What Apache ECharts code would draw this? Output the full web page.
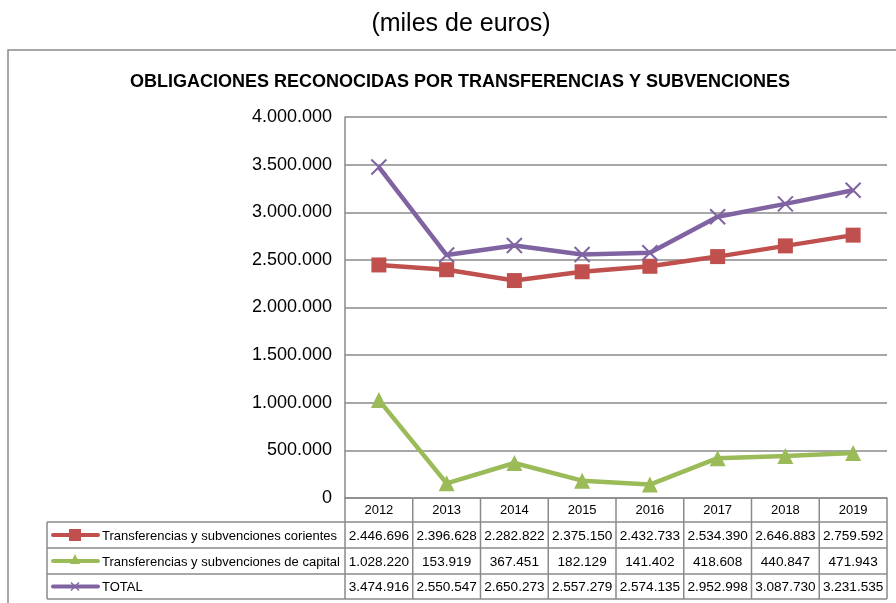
<!DOCTYPE html>
<html>
<head>
<meta charset="utf-8">
<script src="https://cdn.jsdelivr.net/npm/echarts@6/dist/echarts.min.js"></script>
<style>
  html, body { margin: 0; padding: 0; background: #fff; }
  #main { width: 896px; height: 603px; }
</style>
</head>
<body>
<div id="main"></div>
<script>
  // datos (miles de euros)
  const years = ['2012', '2013', '2014', '2015', '2016', '2017', '2018', '2019'];
  const corrientes = [2446696, 2396628, 2282822, 2375150, 2432733, 2534390, 2646883, 2759592];
  const capital = [1028220, 153919, 367451, 182129, 141402, 418608, 440847, 471943];
  const total = [3474916, 2550547, 2650273, 2557279, 2574135, 2952998, 3087730, 3231535];
  const seriesNames = [
    'Transferencias y subvenciones corientes',
    'Transferencias y subvenciones de capital',
    'TOTAL',
  ];
  const colors = ['#C0504D', '#9BBB59', '#8064A2'];
  const crossPath = 'path://M0,0L10,10M10,0L0,10';

  const fmt = v => String(v).replace(/\B(?=(\d{3})+(?!\d))/g, '.');
  const font = 'Liberation Sans, Arial, sans-serif';
  const gridColor = '#8a8a8a';

  const myChart = echarts.init(document.getElementById('main'));

  const gridLeft = 345;
  const gridRight = 887;
  const tableLeft = 47;
  const rowY = [498, 522, 548, 574, 599];

  myChart.setOption({
    animation: false,
    textStyle: { fontFamily: font },
    title: [{
      text: '(miles de euros)',
      left: 456,
      top: 7,
      textAlign: 'center',
      textStyle: { fontSize: 25, fontWeight: 'normal', color: '#000', fontFamily: font },
    }, {
      text: 'OBLIGACIONES RECONOCIDAS POR TRANSFERENCIAS Y SUBVENCIONES',
      left: 455,
      top: 68,
      textAlign: 'center',
      textStyle: { fontSize: 18, fontWeight: 'bold', color: '#000', fontFamily: font },
    }],
    grid: {
      left: gridLeft,
      right: 896 - gridRight,
      top: 117,
      bottom: 603 - rowY[0],
      containLabel: false,
    },
    xAxis: {
      type: 'category',
      data: years,
      boundaryGap: true,
      axisLine: { lineStyle: { color: gridColor, width: 1.5 } },
      axisTick: { show: false },
      axisLabel: { color: '#000', fontSize: 13, margin: 6, fontFamily: font },
    },
    yAxis: {
      type: 'value',
      min: 0,
      max: 4000000,
      interval: 500000,
      axisLine: { show: true, lineStyle: { color: gridColor, width: 1.5 } },
      axisTick: { show: false },
      splitLine: { lineStyle: { color: gridColor, width: 1.5 } },
      axisLabel: {
        color: '#000',
        fontSize: 18,
        margin: 13,
        fontFamily: font,
        formatter: v => fmt(v),
      },
    },
    series: [{
      name: seriesNames[0],
      type: 'line',
      data: corrientes,
      symbol: 'rect',
      symbolSize: 15,
      lineStyle: { color: colors[0], width: 4.5 },
      itemStyle: { color: colors[0] },
    }, {
      name: seriesNames[1],
      type: 'line',
      data: capital,
      symbol: 'triangle',
      symbolSize: 16,
      lineStyle: { color: colors[1], width: 4.5 },
      itemStyle: { color: colors[1] },
    }, {
      name: seriesNames[2],
      type: 'line',
      data: total,
      symbol: crossPath,
      symbolSize: 15,
      lineStyle: { color: colors[2], width: 4.5 },
      itemStyle: { color: colors[2], borderColor: colors[2], borderWidth: 2 },
    }],
  });

  // tabla de datos debajo del eje
  function buildTable() {
    const colW = (gridRight - gridLeft) / years.length;
    const els = [];
    const line = (x1, y1, x2, y2) => ({
      type: 'line',
      shape: { x1, y1, x2, y2 },
      style: { stroke: gridColor, lineWidth: 1.5 },
      z: 10,
    });
    // marco exterior
    els.push({
      type: 'rect',
      shape: { x: 8, y: 50, width: 900, height: 620 },
      style: { fill: 'none', stroke: '#8a8a8a', lineWidth: 1.5 },
      z: 0,
    });
    // verticales de los años
    for (let i = 0; i <= years.length; i++) {
      const x = gridLeft + i * colW;
      els.push(line(x, rowY[0], x, rowY[4]));
    }
    els.push(line(tableLeft, rowY[1], tableLeft, rowY[4]));
    for (let r = 1; r < rowY.length; r++) {
      els.push(line(tableLeft, rowY[r], gridRight, rowY[r]));
    }
    const rows = [corrientes, capital, total];
    const markers = ['rect', 'triangle', 'cross'];
    rows.forEach((vals, r) => {
      const cy = (rowY[r + 1] + rowY[r + 2]) / 2;
      vals.forEach((v, i) => {
        const cx = myChart.convertToPixel({ xAxisIndex: 0 }, i);
        els.push({
          type: 'text',
          style: {
            text: fmt(v), x: cx, y: cy + 1, align: 'center', verticalAlign: 'middle',
            fill: '#000', font: '13.6px ' + font,
          },
          z: 11,
        });
      });
      // clave de la leyenda
      els.push({
        type: 'line',
        shape: { x1: 53, y1: cy, x2: 98, y2: cy },
        style: { stroke: colors[r], lineWidth: 4, lineCap: 'round' },
        z: 11,
      });
      if (markers[r] === 'rect') {
        els.push({ type: 'rect', shape: { x: 69, y: cy - 6, width: 12, height: 12 },
          style: { fill: colors[r] }, z: 12 });
      } else if (markers[r] === 'triangle') {
        els.push({ type: 'polygon', shape: { points: [[75, cy - 7], [80, cy + 3], [70, cy + 3]] },
          style: { fill: colors[r] }, z: 12 });
      } else {
        els.push({ type: 'polyline', shape: { points: [[71, cy - 4], [79, cy + 4]] },
          style: { stroke: colors[r], lineWidth: 1.5, fill: null }, z: 12 });
        els.push({ type: 'polyline', shape: { points: [[79, cy - 4], [71, cy + 4]] },
          style: { stroke: colors[r], lineWidth: 1.5, fill: null }, z: 12 });
      }
      els.push({
        type: 'text',
        style: {
          text: seriesNames[r], x: 102, y: cy + 1, align: 'left', verticalAlign: 'middle',
          fill: '#000', font: '13px ' + font,
        },
        z: 11,
      });
    });
    myChart.setOption({ graphic: { elements: els } });
  }
  buildTable();
</script>
</body>
</html>
